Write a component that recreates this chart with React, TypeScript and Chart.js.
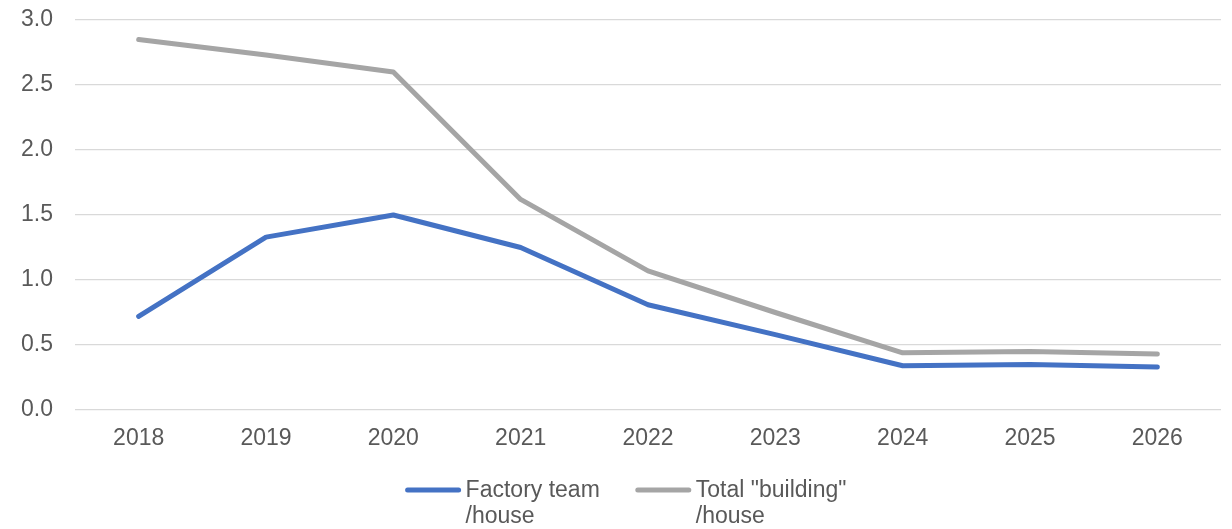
import React, { useEffect, useRef } from "react";
import { Chart, registerables } from "chart.js";

Chart.register(...registerables);

const years = ["2018", "2019", "2020", "2021", "2022", "2023", "2024", "2025", "2026"];
const factoryTeam = [0.72, 1.33, 1.5, 1.25, 0.81, 0.58, 0.34, 0.35, 0.33];
const totalBuilding = [2.85, 2.73, 2.6, 1.62, 1.07, 0.75, 0.44, 0.45, 0.43];
const factoryLabel = ["Factory team", "/house"];
const totalLabel = ['Total "building"', "/house"];

const TEXT = "#595959";
const FONT = "Liberation Sans, Arial, sans-serif";
const FONT_SIZE = 23;

// Bottom legend with two-line labels and a short line sample per series
const lineLegend = {
  id: "lineLegend",
  afterDraw(chart: any) {
    const ctx = chart.ctx;
    const sampleW = 55;
    const gap = 5;
    const itemGap = 36;
    const lineH = 26;
    ctx.save();
    ctx.font = `${FONT_SIZE}px ${FONT}`;
    const items = chart.data.datasets.map((ds: any) => {
      const lines: string[] = ds.label;
      const w = Math.max(...lines.map((l) => ctx.measureText(l).width));
      return { ds, lines, w: sampleW + gap + w };
    });
    const total = items.reduce((s: number, it: any) => s + it.w, 0) + itemGap * (items.length - 1);
    let x = 626 - total / 2;
    const y = 490;
    items.forEach((it: any) => {
      ctx.strokeStyle = it.ds.borderColor;
      ctx.lineWidth = 5;
      ctx.lineCap = "round";
      ctx.beginPath();
      ctx.moveTo(x + 2, y);
      ctx.lineTo(x + sampleW - 2, y);
      ctx.stroke();
      ctx.fillStyle = TEXT;
      ctx.textAlign = "left";
      ctx.textBaseline = "alphabetic";
      it.lines.forEach((line: string, i: number) => {
        ctx.fillText(line, x + sampleW + gap, 497 + i * lineH);
      });
      x += it.w + itemGap;
    });
    ctx.restore();
  },
};

export default function App() {
  const canvasRef = useRef<HTMLCanvasElement | null>(null);

  useEffect(() => {
    if (!canvasRef.current) return;
    const chart = new Chart(canvasRef.current, {
      type: "line",
      data: {
        labels: years,
        datasets: [
          {
            label: factoryLabel as any,
            data: factoryTeam,
            borderColor: "#4472C4",
            backgroundColor: "#4472C4",
            borderWidth: 5,
            pointRadius: 0,
            borderCapStyle: "round",
            borderJoinStyle: "round",
            tension: 0,
          },
          {
            label: totalLabel as any,
            data: totalBuilding,
            borderColor: "#A5A5A5",
            backgroundColor: "#A5A5A5",
            borderWidth: 5,
            pointRadius: 0,
            borderCapStyle: "round",
            borderJoinStyle: "round",
            tension: 0,
          },
        ],
      },
      options: {
        animation: false,
        responsive: false,
        maintainAspectRatio: false,
        layout: { padding: { top: 20, right: 11, left: 0, bottom: 0 } },
        plugins: {
          legend: { display: false },
          tooltip: { enabled: false },
        },
        scales: {
          x: {
            offset: true,
            grid: { display: false, drawTicks: false },
            border: { display: false },
            ticks: {
              color: TEXT,
              font: { family: FONT, size: FONT_SIZE },
              padding: 15,
              maxRotation: 0,
            },
            afterFit: (scale: any) => {
              scale.height = 119;
            },
          },
          y: {
            min: 0,
            max: 3,
            grid: { color: "#D9D9D9", lineWidth: 1.3, drawTicks: false },
            border: { display: false },
            ticks: {
              stepSize: 0.5,
              color: TEXT,
              font: { family: FONT, size: FONT_SIZE },
              padding: 22,
              callback: (v: any) => Number(v).toFixed(1),
            },
            afterFit: (scale: any) => {
              scale.width = 75;
              scale.paddingTop = 0;
              scale.paddingBottom = 0;
            },
          },
        },
      },
      plugins: [lineLegend],
    });
    return () => chart.destroy();
  }, []);

  return (
    <div style={{ position: "fixed", left: 0, top: 0, width: 1232, height: 529, background: "#fff" }}>
      <canvas ref={canvasRef} width={1232} height={529} style={{ display: "block" }} />
    </div>
  );
}
